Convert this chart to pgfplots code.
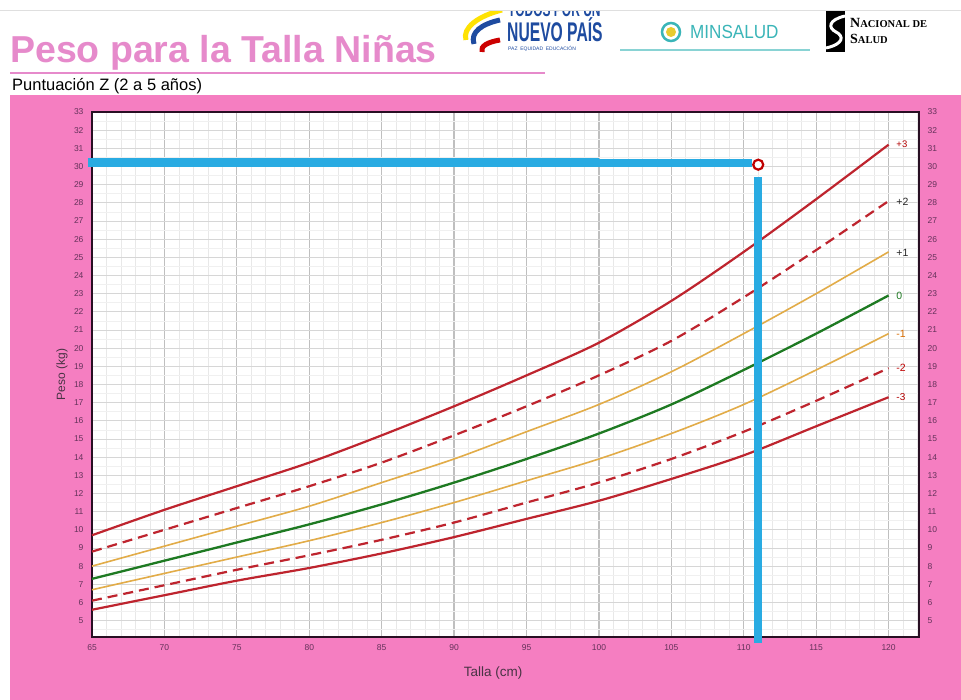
\documentclass[border=0pt]{standalone}
\usepackage{fontspec}
\setmainfont{Liberation Sans}
\newfontfamily\serifbf{Liberation Serif}
\usepackage{pgfplots}
\pgfplotsset{compat=1.18}
\usepackage{pgfplotstable}

\definecolor{bgpink}{RGB}{245,126,193}
\definecolor{titlepink}{RGB}{230,138,203}
\definecolor{ticklab}{RGB}{100,50,90}
\definecolor{framecol}{RGB}{40,15,35}
\definecolor{zred}{RGB}{190,36,46}
\definecolor{zyel}{RGB}{226,172,72}
\definecolor{zgreen}{RGB}{30,122,34}
\definecolor{zblue}{RGB}{41,171,226}
\definecolor{logoblue}{RGB}{30,75,160}
\definecolor{minteal}{RGB}{58,181,184}

\pgfplotstableread{
x   m3   m2   m1   z0   p1   p2   p3
65  5.6  6.1  6.7  7.3  8.0  8.8  9.7
70  6.4  6.95 7.6  8.3  9.1  10.0 11.1
75  7.2  7.8  8.5  9.3  10.2 11.2 12.4
80  7.9  8.6  9.4  10.3 11.3 12.4 13.7
85  8.7  9.45 10.4 11.4 12.6 13.7 15.2
90  9.6  10.4 11.5 12.6 13.9 15.2 16.8
95  10.6 11.5 12.7 13.9 15.4 16.8 18.5
100 11.6 12.6 13.9 15.3 16.9 18.5 20.3
105 12.8 13.9 15.3 16.9 18.7 20.4 22.6
110 14.1 15.4 16.9 18.8 20.8 22.8 25.3
115 15.7 17.1 18.8 20.8 23.0 25.4 28.2
120 17.3 18.9 20.8 22.9 25.3 28.1 31.2
}\who

\begin{document}
\begin{tikzpicture}
\useasboundingbox (0,0) rectangle (961pt,700pt);
\fill[white] (0,0) rectangle (961pt,700pt);
\fill[bgpink] (10pt,0) rectangle (961pt,605pt);

% title block
\node[anchor=base west, text=titlepink, font=\bfseries\fontsize{37.5}{40}\selectfont, inner sep=0] at (10pt,637pt) {Peso para la Talla Niñas};
\draw[titlepink, line width=1.2pt] (10pt,627pt) -- (545pt,627pt);
\node[anchor=base west, font=\fontsize{16.5}{18}\selectfont, inner sep=0] at (12pt,609pt) {Puntuación Z (2 a 5 años)};

% logos (approximate)
\draw[line width=5pt, yellow!85!orange] (502pt,690pt) .. controls (478pt,684pt) and (462pt,672pt) .. (466pt,660pt);
\draw[line width=5pt, logoblue] (500pt,680pt) .. controls (482pt,676pt) and (470pt,668pt) .. (474pt,656pt);
\draw[line width=5pt, red!80!black] (500pt,660pt) .. controls (488pt,658pt) and (480pt,654pt) .. (482pt,648pt);
\node[anchor=base west, inner sep=0, text=logoblue] at (508pt,683pt) {\scalebox{0.6}[1]{\bfseries\fontsize{20}{22}\selectfont TODOS POR UN}};
\node[anchor=base west, inner sep=0, text=logoblue] at (507pt,658pt) {\scalebox{0.58}[1]{\bfseries\fontsize{27}{28}\selectfont NUEVO PAÍS}};
\node[anchor=base west, inner sep=0, text=logoblue] at (508pt,649pt) {\fontsize{5}{6}\selectfont PAZ\ \ EQUIDAD\ \ EDUCACIÓN};
\fill[white] (0,690pt) rectangle (961pt,700pt);
\draw[gray!25, line width=0.8pt] (0,690pt) -- (961pt,690pt);

\draw[minteal, line width=2.5pt] (671pt,668pt) circle (9pt);
\fill[yellow!60!brown] (671pt,668pt) circle (5pt);
\node[anchor=base west, inner sep=0, text=minteal] at (690pt,661pt) {\scalebox{0.9}[1]{\fontsize{19}{20}\selectfont MINSALUD}};
\draw[minteal!60, line width=1.2pt] (620pt,650pt) -- (810pt,650pt);

\fill[black] (826pt,648pt) rectangle (845pt,689pt);
\draw[white, line width=3pt] (845pt,684pt) .. controls (828pt,680pt) and (828pt,672pt) .. (836pt,668pt) .. controls (844pt,664pt) and (844pt,656pt) .. (826pt,652pt);
\node[anchor=base west, inner sep=0] at (850pt,672pt) {\serifbf\bfseries{\fontsize{14}{15}\selectfont N}{\fontsize{10.5}{12}\selectfont ACIONAL DE}};
\node[anchor=base west, inner sep=0] at (850pt,656pt) {\serifbf\bfseries{\fontsize{14}{15}\selectfont S}{\fontsize{10.5}{12}\selectfont ALUD}};

% main axis
\begin{axis}[
  at={(92pt,63pt)}, anchor=south west, scale only axis,
  width=827pt, height=525pt,
  xmin=65, xmax=122.1, ymin=4.1, ymax=33,
  axis background/.style={fill=white},
  xtick={65,70,...,120}, ytick={5,6,...,33},
  minor xtick={66,...,122}, minor ytick={4.5,5.5,...,32.5},
  grid=both,
  major x grid style={draw=black!25, line width=1.3pt},
  major y grid style={draw=black!16, line width=0.9pt},
  minor x grid style={draw=black!9, line width=0.7pt},
  minor y grid style={draw=black!6, line width=0.5pt},
  major tick length=0pt, minor tick length=0pt,
  axis line style={draw=framecol, line width=2pt},
  /pgf/number format/assume math mode=true,
  tick label style={font=\fontsize{8.5}{9}\selectfont, text=ticklab},
  yticklabel style={xshift=-5pt},
  xticklabel style={yshift=-4pt},
  xlabel={Talla (cm)}, ylabel={Peso (kg)},
  every axis x label/.style={at={(axis description cs:0.485,0)}, anchor=center, yshift=-36pt, font=\fontsize{13.5}{14}\selectfont, text=framecol!85},
  every axis y label/.style={at={(axis description cs:0,0.5)}, xshift=-30pt, rotate=90, anchor=center, font=\fontsize{12}{13}\selectfont, text=framecol!85},
  clip=false,
]
\addplot[zred, line width=2.2pt, smooth] table[x=x, y=m3] {\who};
\addplot[zred, line width=2.2pt, smooth, dash pattern=on 10pt off 6pt] table[x=x, y=m2] {\who};
\addplot[zyel, line width=1.6pt, smooth] table[x=x, y=m1] {\who};
\addplot[zgreen, line width=2.3pt, smooth] table[x=x, y=z0] {\who};
\addplot[zyel, line width=1.6pt, smooth] table[x=x, y=p1] {\who};
\addplot[zred, line width=2.2pt, smooth, dash pattern=on 10pt off 6pt] table[x=x, y=p2] {\who};
\addplot[zred, line width=2.2pt, smooth] table[x=x, y=p3] {\who};

% reading lines
\addplot[zblue, line width=9pt] coordinates {(64.72,30.2) (100,30.2)};
\addplot[zblue, line width=8pt] coordinates {(100,30.2) (110.6,30.2)};
\addplot[zblue, line width=7.5pt] coordinates {(111,29.4) (111,3.78)};
\addplot[only marks, mark=*, mark size=5pt, mark options={fill=white, draw=red!75!black, line width=2.2pt}] coordinates {(111,30.1)};

% curve labels
\node[anchor=west, text=red!70!black, font=\fontsize{9.5}{10}\selectfont] at (axis cs:120.3,31.25) {+3};
\node[anchor=west, text=black!85, font=\fontsize{10.5}{11}\selectfont] at (axis cs:120.3,28.05) {+2};
\node[anchor=west, text=black!85, font=\fontsize{10.5}{11}\selectfont] at (axis cs:120.3,25.25) {+1};
\node[anchor=west, text=zgreen, font=\fontsize{10.5}{11}\selectfont] at (axis cs:120.3,22.9) {0};
\node[anchor=west, text=orange!85!black, font=\fontsize{10.5}{11}\selectfont] at (axis cs:120.3,20.8) {-1};
\node[anchor=west, text=red!75!black, font=\fontsize{10.5}{11}\selectfont] at (axis cs:120.3,18.9) {-2};
\node[anchor=west, text=red!70!black, font=\fontsize{10}{11}\selectfont] at (axis cs:120.3,17.3) {-3};
\end{axis}

% right-hand tick labels
\begin{axis}[
  at={(92pt,63pt)}, anchor=south west, scale only axis,
  width=827pt, height=525pt,
  xmin=65, xmax=122.1, ymin=4.1, ymax=33,
  hide x axis, axis y line*=right, axis line style={draw=none},
  ytick={5,6,...,33}, major tick length=0pt,
  /pgf/number format/assume math mode=true,
  tick label style={font=\fontsize{8.5}{9}\selectfont, text=ticklab},
  yticklabel style={xshift=5pt},
]
\addplot[draw=none] coordinates {(65,5) (120,30)};
\end{axis}
\end{tikzpicture}
\end{document}
